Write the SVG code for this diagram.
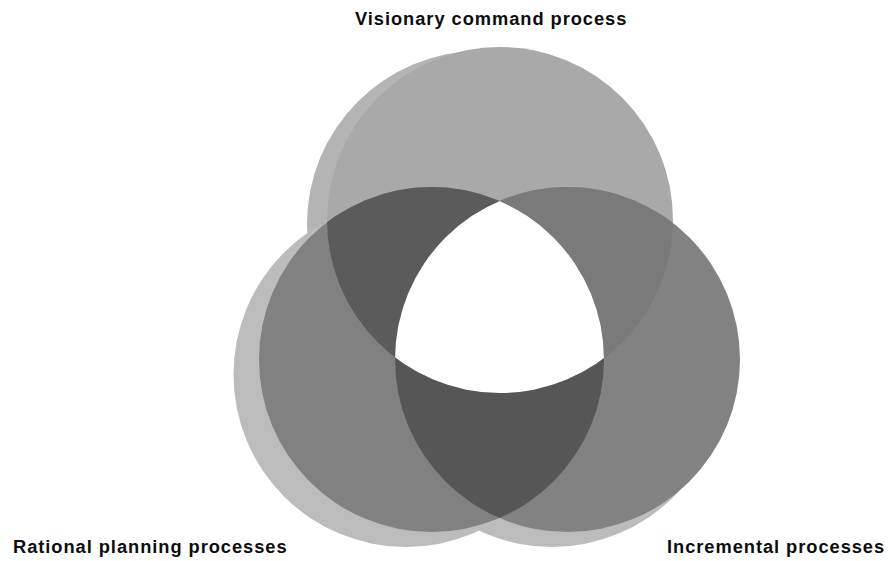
<svg xmlns="http://www.w3.org/2000/svg" width="888" height="561" viewBox="0 0 888 561">
  <style>
    .label { font-family: "Liberation Sans", Arial, sans-serif; font-weight: bold; font-size: 18.3px; letter-spacing: 0.95px; fill: #0d0d0d; }
    .shadow { fill: #bcbcbc; }
  </style>
  <defs>
    <circle id="cT" cx="500" cy="220" r="173"/>
    <circle id="cL" cx="431.5" cy="359.5" r="172.5"/>
    <circle id="cR" cx="567.5" cy="359.5" r="172.5"/>
    <clipPath id="clipT"><use href="#cT"/></clipPath>
    <clipPath id="clipL"><use href="#cL"/></clipPath>
    <clipPath id="clipR"><use href="#cR"/></clipPath>
  </defs>
  <rect width="888" height="561" fill="#ffffff"/>

  <g id="shadows">
    <circle cx="480" cy="224" r="173" fill="#b4b4b4"/>
    <circle class="shadow" cx="406" cy="374.5" r="172.5"/>
    <circle class="shadow" cx="552" cy="374.5" r="172.5"/>
  </g>

  <g id="visionary">
    <use href="#cT" fill="#a9a9a9"/>
    <text class="label" x="355" y="25">Visionary command process</text>
  </g>
  <g id="rational">
    <use href="#cL" fill="#818181"/>
    <text class="label" x="13" y="553">Rational planning processes</text>
  </g>
  <g id="incremental">
    <use href="#cR" fill="#828282"/>
    <text class="label" x="667" y="553">Incremental processes</text>
  </g>

  <g id="overlaps">
    <g clip-path="url(#clipT)"><use href="#cL" fill="#5b5b5b"/></g>
    <g clip-path="url(#clipT)"><use href="#cR" fill="#7a7a7a"/></g>
    <g clip-path="url(#clipL)"><use href="#cR" fill="#565656"/></g>
    <g clip-path="url(#clipT)"><g clip-path="url(#clipL)"><use href="#cR" fill="#ffffff"/></g></g>
  </g>

  <g id="connectors"/>
</svg>
